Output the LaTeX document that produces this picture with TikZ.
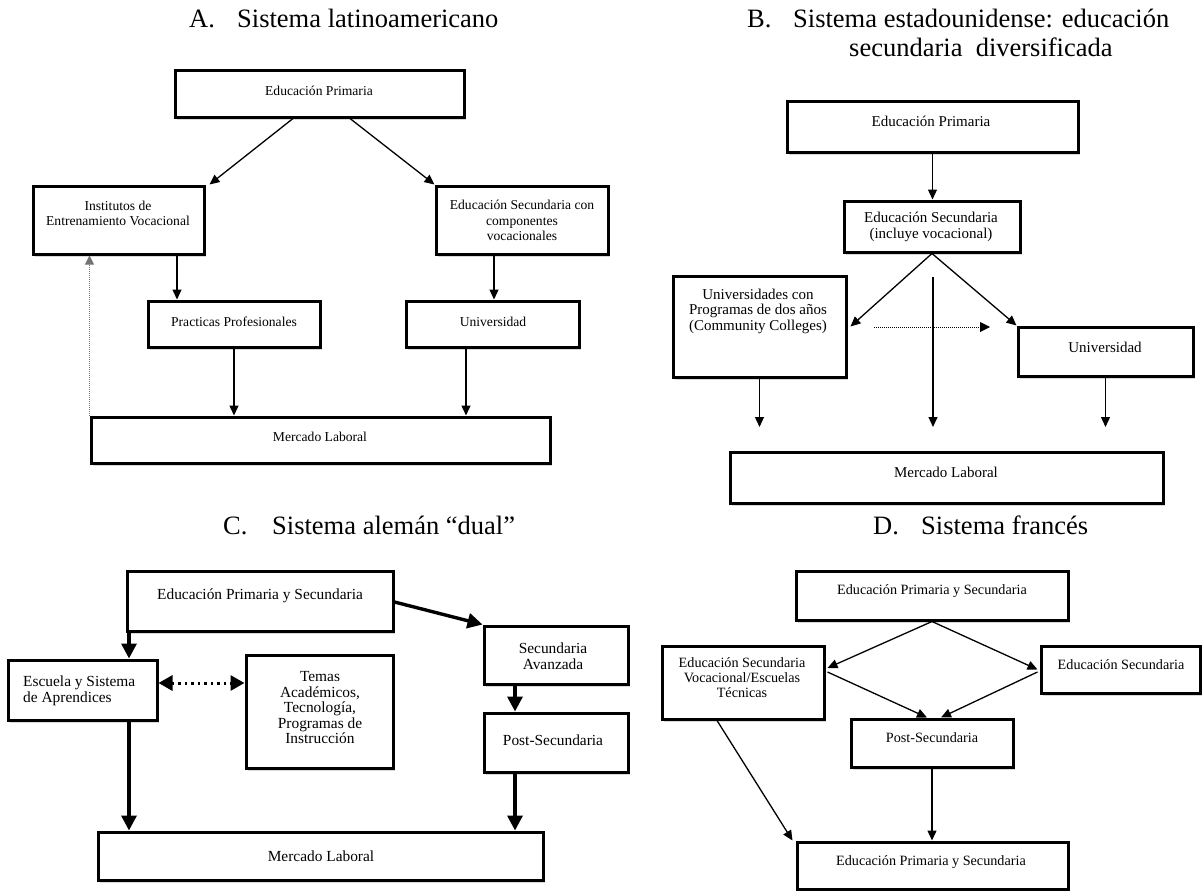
\documentclass[tikz,border=0pt]{standalone}
\usepackage{fontspec}
\setmainfont{Liberation Serif}
\usetikzlibrary{arrows.meta,shadows,calc}
\tikzset{
  box/.style={draw, line width=3pt, fill=white, inner sep=0pt,
    drop shadow={shadow xshift=1.5pt, shadow yshift=-2.5pt, opacity=0.3}},
  tA/.style={font=\fontsize{13.6}{15.7}\selectfont, align=center, inner sep=0pt},
  tB/.style={font=\fontsize{15}{15.5}\selectfont, align=center, inner sep=0pt},
  tC/.style={font=\fontsize{15.4}{15.5}\selectfont, align=center, inner sep=0pt},
  tD/.style={font=\fontsize{14.2}{15}\selectfont, align=center, inner sep=0pt},
  ttl/.style={font=\fontsize{26.5}{29}\selectfont, anchor=base west, inner sep=0pt},
  thin/.style={line width=1.3pt, -{Triangle[length=10pt,width=9pt]}},
  thick/.style={line width=3.4pt, -{Triangle[length=15pt,width=15pt]}},
  dotA/.style={line width=1pt, black!55, dash pattern=on 1pt off 1pt, -{Triangle[length=9pt,width=9pt]}},
  dotB/.style={line width=1pt, dash pattern=on 1pt off 1pt, -{Triangle[length=10pt,width=10pt]}},
  dotC/.style={line width=3pt, dash pattern=on 2.5pt off 4pt, {Triangle[length=14pt,width=15pt]}-{Triangle[length=14pt,width=15pt]}},
}
\begin{document}
\begin{tikzpicture}[x=1pt,y=-1pt]
\useasboundingbox (0,0) rectangle (1203,891);

% ---------------- Titles
\node[ttl] (tAl) at (189,28) {A.};
\node[ttl] (tAs) at (237,28) {Sistema latinoamericano};
\node[ttl] (tBl) at (747,28) {B.};
\node[ttl] (tBs) at (793,28) {Sistema estadounidense: educación};
\node[ttl] (tBs2) at (849,57) {secundaria\ \ diversificada};
\node[ttl] (tCl) at (223,534) {C.};
\node[ttl] (tCs) at (272,534) {Sistema alemán “dual”};
\node[ttl] (tDl) at (873,534) {D.};
\node[ttl] (tDs) at (921,534) {Sistema francés};

% ---------------- Panel A
\node[box, minimum width=289pt, minimum height=46pt] (priA) at (319.5,94) {};
\node[tA] (priAt) at (319,91) {Educación Primaria};
\node[box, minimum width=171pt, minimum height=68pt] (instA) at (118.5,220) {};
\node[tA] (instAt) at (118,213.5) {Institutos de\\Entrenamiento Vocacional};
\node[box, minimum width=172pt, minimum height=68pt] (secA) at (522,220) {};
\node[tA] (secAt) at (522,220.5) {Educación Secundaria con\\componentes\\vocacionales};
\node[box, minimum width=172pt, minimum height=46pt] (pracA) at (234,324) {};
\node[tA] (pracAt) at (234,322) {Practicas Profesionales};
\node[box, minimum width=173pt, minimum height=46pt] (univA) at (492.5,324) {};
\node[tA] (univAt) at (493,322) {Universidad};
\node[box, minimum width=459pt, minimum height=46pt] (mercA) at (320.5,440) {};
\node[tA] (mercAt) at (320,437) {Mercado Laboral};

\draw[thin] ([xshift=-26.5pt]priA.south) -- ([xshift=4pt]instA.north east);
\draw[thin] ([xshift=30.5pt]priA.south) -- (secA.north west);
\draw[thin] ([xshift=58.5pt]instA.south) coordinate (a1) -- (a1 |- pracA.north);
\draw[thin] ([xshift=-28pt]secA.south) coordinate (a2) -- (a2 |- univA.north);
\draw[thin] (pracA.south) -- (pracA.south |- mercA.north);
\draw[thin] ([xshift=-26.5pt]univA.south) coordinate (a3) -- (a3 |- mercA.north);
\draw[dotA] (mercA.north west) -- (mercA.north west |- instA.south);

% ---------------- Panel B
\node[box, minimum width=291pt, minimum height=50pt] (priB) at (932.5,127) {};
\node[tB] (priBt) at (931,121) {Educación Primaria};
\node[box, minimum width=176pt, minimum height=51pt] (secB) at (932,226.5) {};
\node[tB] (secBt) at (931,227) {Educación Secundaria\\(incluye vocacional)};
\node[box, minimum width=173pt, minimum height=101pt] (ccB) at (759.5,326.5) {};
\node[tB] (ccBt) at (758,311) {Universidades con\\Programas de dos años\\(Community Colleges)};
\node[box, minimum width=175pt, minimum height=49pt] (univB) at (1105.5,351.5) {};
\node[tB] (univBt) at (1105,347) {Universidad};
\node[box, minimum width=433pt, minimum height=51pt] (mercB) at (946.5,477.5) {};
\node[tB] (mercBt) at (946,472) {Mercado Laboral};

\coordinate (mB) at (933,277);
\coordinate (mBe) at (933,427);
\coordinate (dB1) at (874,327);
\coordinate (dB2) at (990,327);
\draw[thin] (priB.south) -- (priB.south |- secB.north);
\draw[thin] (secB.south) -- ([xshift=3pt]ccB.east);
\draw[thin] (secB.south) -- (univB.north west);
\draw[thin] (mB) -- (mBe);
\draw[dotB] (dB1) -- (dB2);
\draw[thin] (ccB.south) -- (ccB.south |- mBe);
\draw[thin] (univB.south) -- (univB.south |- mBe);

% ---------------- Panel C
\node[box, minimum width=266pt, minimum height=60pt] (priC) at (260,601) {};
\node[tC] (priCt) at (260,596) {Educación Primaria y Secundaria};
\node[box, minimum width=144pt, minimum height=58pt] (savC) at (556,655) {};
\node[tC] (savCt) at (553,656) {Secundaria\\Avanzada};
\node[box, minimum width=149pt, minimum height=60pt] (escC) at (82.5,690) {};
\node[tC, align=left, anchor=west] (escCt) at (23,691) {Escuela y Sistema\\de Aprendices};
\node[box, minimum width=147pt, minimum height=113pt] (temC) at (319.5,711.5) {};
\node[tC] (temCt) at (320,708) {Temas\\Académicos,\\Tecnología,\\Programas de\\Instrucción};
\node[box, minimum width=144pt, minimum height=59pt] (postC) at (556,742.5) {};
\node[tC] (postCt) at (553,740) {Post-Secundaria};
\node[box, minimum width=445pt, minimum height=48pt] (mercC) at (320.5,856) {};
\node[tC] (mercCt) at (321,856) {Mercado Laboral};

\draw[thick] ([yshift=-1pt]priC.east) -- (savC.north west);
\draw[thick] ([xshift=-131pt]priC.south) coordinate (c1) -- (c1 |- escC.north);
\draw[dotC] ([yshift=7pt]escC.east) coordinate (c2) -- (c2 -| temC.west);
\draw[thick] ([xshift=46.5pt]escC.south) coordinate (c3) -- (c3 |- mercC.north);
\draw[thick] ([xshift=-41pt]savC.south) coordinate (c4) -- (c4 |- postC.north);
\draw[thick] ([xshift=-41pt]postC.south) coordinate (c5) -- (c5 |- mercC.north);

% ---------------- Panel D
\node[box, minimum width=272pt, minimum height=49pt] (priD) at (932,595.5) {};
\node[tD] (priDt) at (932,591) {Educación Primaria y Secundaria};
\node[box, minimum width=162pt, minimum height=73pt] (vocD) at (743,682.5) {};
\node[tD] (vocDt) at (742,678) {Educación Secundaria\\Vocacional/Escuelas\\Técnicas};
\node[box, minimum width=159pt, minimum height=47pt] (esD) at (1120.5,669.5) {};
\node[tD] (esDt) at (1121,665) {Educación Secundaria};
\node[box, minimum width=162pt, minimum height=48pt] (postD) at (932,743) {};
\node[tD] (postDt) at (932,738) {Post-Secundaria};
\node[box, minimum width=271pt, minimum height=47pt] (botD) at (932.5,865.5) {};
\node[tD] (botDt) at (931,862) {Educación Primaria y Secundaria};

\draw[thin] (priD.south) -- ([xshift=2pt,yshift=14.5pt]vocD.east);
\draw[thin] (priD.south) -- ([xshift=-2pt]esD.west);
\draw[thin] ([xshift=2pt,yshift=10.5pt]vocD.east) -- ([xshift=-5pt]postD.north);
\draw[thin] ([xshift=-2pt,yshift=-2.5pt]esD.west) -- ([xshift=9pt]postD.north);
\draw[thin] (postD.south) -- (postD.south |- botD.north);
\draw[thin] ([xshift=-26pt]vocD.south) -- ([xshift=-3pt]botD.north west);
\end{tikzpicture}
\end{document}
